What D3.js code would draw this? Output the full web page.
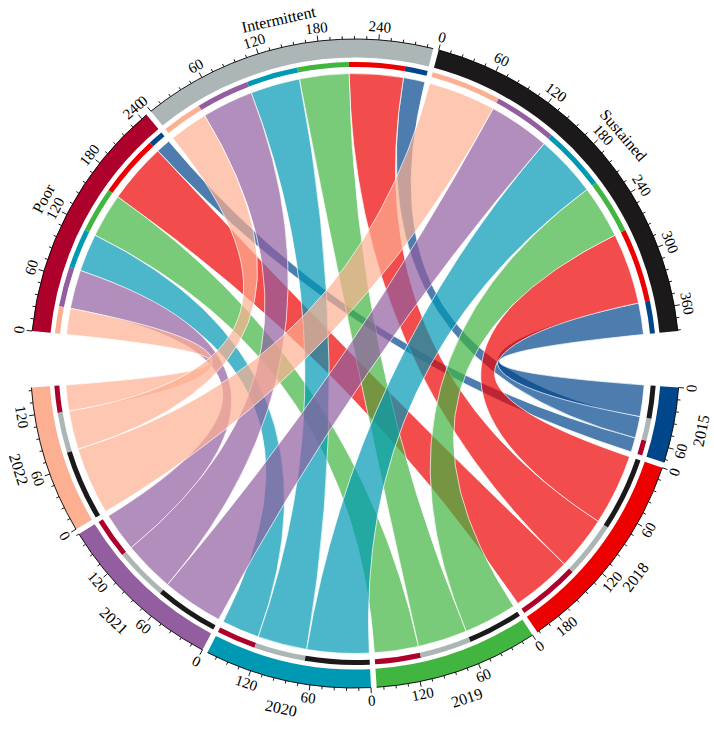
<!DOCTYPE html>
<html>
<head>
<meta charset="utf-8">
<script src="https://cdn.jsdelivr.net/npm/d3@7"></script>
<style>
    body { margin: 0; background: #fff; }
    #chart { width: 714px; height: 729px; }
    text { font-family: "Liberation Serif", "DejaVu Serif", serif; fill: #000; }
</style>
</head>
<body>
<div id="chart"></div>
<script>
// sectors
const years = ["2015", "2018", "2019", "2020", "2021", "2022"];
const statuses = ["Poor", "Intermittent", "Sustained"];

// link widths, one value per year (same order as years)
const poorByYear = [16, 67, 49, 42, 43, 29];
const intermittentByYear = [24, 60, 55, 55, 57, 43];
const sustainedByYear = [35, 79, 59, 69, 68, 75];

const yearColors = ["#00468B", "#ED0000", "#42B540", "#0099B4", "#925E9F", "#FDAF91"];
const statusColors = ["#AD002A", "#ADB6B6", "#1B1919"];

// axis ticks
const majorStep = 60;
const minorStep = 12;

class ChordVis {
    constructor(parentElement) {
        this.parentElement = parentElement;
        this.initVis();
    }

    initVis() {
        let vis = this;

        vis.width = 714;
        vis.height = 729;
        vis.cx = 355;
        vis.cy = 363.5;

        // radii (circlize-like tracks)
        vis.rOuter = 324.5;
        vis.rBand = 306;
        vis.rStripOut = 301.5;
        vis.rStripIn = 296.5;
        vis.rLink = 290;

        vis.svg = d3.select("#" + vis.parentElement).append("svg")
            .attr("width", vis.width)
            .attr("height", vis.height)
            .append("g")
            .attr("transform", "translate(" + vis.cx + "," + vis.cy + ")");

        vis.wrangleData();
    }

    wrangleData() {
        let vis = this;

        vis.matrix = years.map((y, i) => [poorByYear[i], intermittentByYear[i], sustainedByYear[i]]);
        let total = d3.sum(vis.matrix, r => d3.sum(r));

        // sector list going clockwise: statuses on top, years on bottom
        vis.sectors = [];
        statuses.forEach((s, j) => {
            vis.sectors.push({name: s, value: d3.sum(vis.matrix, r => r[j]), color: statusColors[j],
                gapAfter: j === statuses.length - 1 ? 10 : 1});
        });
        years.forEach((y, i) => {
            vis.sectors.push({name: y, value: d3.sum(vis.matrix[i]), color: yearColors[i],
                gapAfter: i === years.length - 1 ? 10 : 1});
        });

        let gaps = d3.sum(vis.sectors, d => d.gapAfter);
        let unit = (360 - gaps) / (2 * total);
        let start = -(total * unit + (statuses.length - 1)) / 2;

        vis.sectors.forEach(d => {
            d.start = start;
            d.end = start + d.value * unit;
            d.scale = d3.scaleLinear().domain([0, d.value]).range([d.start, d.end]);
            start = d.end + d.gapAfter;
        });

        let rad = Math.PI / 180;
        vis.links = [];
        years.forEach((y, i) => {
            let ys = vis.sectors[statuses.length + i];
            statuses.forEach((s, j) => {
                let ss = vis.sectors[j];
                let v = vis.matrix[i][j];
                // year sector: Sustained, Intermittent, Poor clockwise
                let yOff = d3.sum(vis.matrix[i].slice(j + 1));
                // status sector: latest year first clockwise
                let sOff = d3.sum(vis.matrix.slice(i + 1), r => r[j]);
                vis.links.push({
                    year: i, status: j,
                    source: {startAngle: ys.scale(yOff) * rad, endAngle: ys.scale(yOff + v) * rad},
                    target: {startAngle: ss.scale(sOff) * rad, endAngle: ss.scale(sOff + v) * rad}
                });
            });
        });

        vis.updateVis();
    }

    updateVis() {
        let vis = this;
        let rad = Math.PI / 180;

        // Links
        let ribbon = d3.ribbon().radius(vis.rLink);
        vis.svg.append("g").attr("class", "links")
            .selectAll("path")
            .data(vis.links)
            .enter()
            .append("path")
            .attr("d", ribbon)
            .attr("fill", d => yearColors[d.year])
            .attr("fill-opacity", 0.7)
            .attr("stroke", "#fff")
            .attr("stroke-width", 0.7);

        // inner strip: colour of the other end
        let stripArc = d3.arc().innerRadius(vis.rStripIn).outerRadius(vis.rStripOut);
        let strips = [];
        vis.links.forEach(d => {
            strips.push({startAngle: d.source.startAngle, endAngle: d.source.endAngle, color: statusColors[d.status]});
            strips.push({startAngle: d.target.startAngle, endAngle: d.target.endAngle, color: yearColors[d.year]});
        });
        vis.svg.append("g").attr("class", "strips")
            .selectAll("path")
            .data(strips)
            .enter()
            .append("path")
            .attr("d", stripArc)
            .attr("fill", d => d.color);

        // outer sector band
        let bandArc = d3.arc().innerRadius(vis.rBand).outerRadius(vis.rOuter);
        let sectorG = vis.svg.append("g").attr("class", "sectors")
            .selectAll("g")
            .data(vis.sectors)
            .enter()
            .append("g");

        sectorG.append("path")
            .attr("d", d => bandArc({startAngle: d.start * rad, endAngle: d.end * rad}))
            .attr("fill", d => d.color);

        // axis line
        sectorG.append("path")
            .attr("d", d => {
                let p = d3.path();
                p.arc(0, 0, vis.rOuter, (d.start - 90) * rad, (d.end - 90) * rad);
                return p.toString();
            })
            .attr("fill", "none")
            .attr("stroke", "#000")
            .attr("stroke-width", 0.9);

        let polar = (r, a) => [r * Math.sin(a * rad), -r * Math.cos(a * rad)];
        let flip = a => {
            let n = ((a % 360) + 360) % 360;
            return (n > 90 && n < 270) ? a - 180 : a;
        };

        sectorG.each(function(d) {
            let g = d3.select(this);
            let ticks = d3.range(0, d.value + 0.001, minorStep);

            g.selectAll("line")
                .data(ticks)
                .enter()
                .append("line")
                .attr("x1", t => polar(vis.rOuter, d.scale(t))[0])
                .attr("y1", t => polar(vis.rOuter, d.scale(t))[1])
                .attr("x2", t => polar(vis.rOuter + (t % majorStep === 0 ? 5.5 : 3), d.scale(t))[0])
                .attr("y2", t => polar(vis.rOuter + (t % majorStep === 0 ? 5.5 : 3), d.scale(t))[1])
                .attr("stroke", "#000")
                .attr("stroke-width", 0.9);

            g.selectAll(".tick-label")
                .data(ticks.filter(t => t % majorStep === 0))
                .enter()
                .append("text")
                .attr("class", "tick-label")
                .attr("transform", t => {
                    let a = d.scale(t);
                    let p = polar(vis.rOuter + 13, a);
                    return "translate(" + p[0] + "," + p[1] + ") rotate(" + flip(a) + ")";
                })
                .attr("text-anchor", "middle")
                .attr("dominant-baseline", "central")
                .attr("font-size", 15)
                .text(t => t);

            let mid = (d.start + d.end) / 2;
            let p = polar(vis.rOuter + 28, mid);
            g.append("text")
                .attr("class", "sector-label")
                .attr("transform", "translate(" + p[0] + "," + p[1] + ") rotate(" + flip(mid) + ")")
                .attr("text-anchor", "middle")
                .attr("dominant-baseline", "central")
                .attr("font-size", 16)
                .text(d.name);
        });
    }
}

new ChordVis("chart");
</script>
</body>
</html>
